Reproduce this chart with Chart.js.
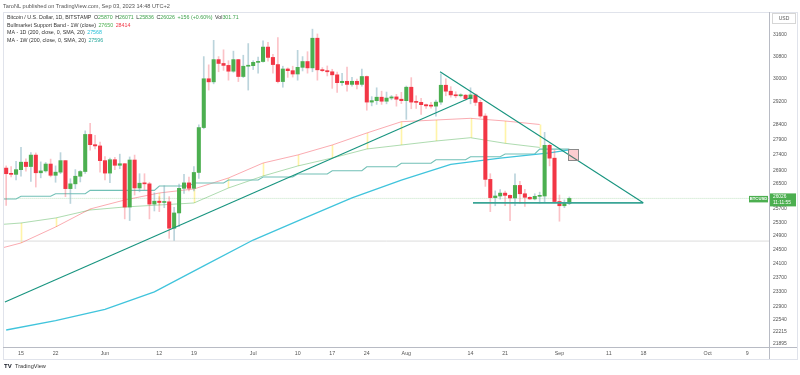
<!DOCTYPE html>
<html>
<head>
<meta charset="utf-8">
<script src="https://cdn.jsdelivr.net/npm/chart.js@4.4.0/dist/chart.umd.min.js"></script>
<style>
html,body{margin:0;padding:0;background:#ffffff;overflow:hidden;}
canvas{display:block;}
</style>
</head>
<body>
<canvas id="c" width="800" height="375"></canvas>
<script>
// ---------------- DATA ----------------
const dates = [
 '2023-05-12','2023-05-13','2023-05-14','2023-05-15','2023-05-16','2023-05-17','2023-05-18','2023-05-19','2023-05-20','2023-05-21',
 '2023-05-22','2023-05-23','2023-05-24','2023-05-25','2023-05-26','2023-05-27','2023-05-28','2023-05-29','2023-05-30','2023-05-31',
 '2023-06-01','2023-06-02','2023-06-03','2023-06-04','2023-06-05','2023-06-06','2023-06-07','2023-06-08','2023-06-09','2023-06-10',
 '2023-06-11','2023-06-12','2023-06-13','2023-06-14','2023-06-15','2023-06-16','2023-06-17','2023-06-18','2023-06-19','2023-06-20',
 '2023-06-21','2023-06-22','2023-06-23','2023-06-24','2023-06-25','2023-06-26','2023-06-27','2023-06-28','2023-06-29','2023-06-30',
 '2023-07-01','2023-07-02','2023-07-03','2023-07-04','2023-07-05','2023-07-06','2023-07-07','2023-07-08','2023-07-09','2023-07-10',
 '2023-07-11','2023-07-12','2023-07-13','2023-07-14','2023-07-15','2023-07-16','2023-07-17','2023-07-18','2023-07-19','2023-07-20',
 '2023-07-21','2023-07-22','2023-07-23','2023-07-24','2023-07-25','2023-07-26','2023-07-27','2023-07-28','2023-07-29','2023-07-30',
 '2023-07-31','2023-08-01','2023-08-02','2023-08-03','2023-08-04','2023-08-05','2023-08-06','2023-08-07','2023-08-08','2023-08-09',
 '2023-08-10','2023-08-11','2023-08-12','2023-08-13','2023-08-14','2023-08-15','2023-08-16','2023-08-17','2023-08-18','2023-08-19',
 '2023-08-20','2023-08-21','2023-08-22','2023-08-23','2023-08-24','2023-08-25','2023-08-26','2023-08-27','2023-08-28','2023-08-29',
 '2023-08-30','2023-08-31','2023-09-01','2023-09-02','2023-09-03'
];
const opens = [
 26980,26800,26780,26930,27170,27030,27400,26830,26890,27110,26750,26850,27220,26330,26480,26720,26870,28080,27740,27700,
 27220,26820,27250,27070,27120,25760,27240,26350,26500,26480,25850,25940,25900,25920,25120,25580,26340,26510,26340,26840,28310,30000,29890,30690,30550,30480,30270,30690,30080,30450,
 30470,30590,30620,31150,30770,30510,29900,30350,30290,30170,30410,30620,30390,31480,30320,30290,30250,30140,29860,29910,29800,29910,29800,30080,29180,29230,29350,29210,29320,29360,29280,
 29230,29700,29180,29170,29090,29050,29040,29180,29770,29560,29430,29400,29420,29300,29430,29170,28700,26620,26050,26100,26190,26120,26040,26430,26170,26060,26010,26090,26100,27720,27300,
 25930,25800,25870
];
const highs = [
 27050,27030,27200,27650,27280,27480,27470,27180,27160,27270,27050,27480,27220,26640,26930,26900,28200,28450,28050,27830,
 27350,27300,27330,27430,27130,27340,27400,26800,26800,26530,26200,26080,26420,26080,25750,26470,26780,26690,27030,28400,30800,30500,31400,30800,31050,30650,31000,30700,30850,31280,
 30650,30780,31380,31330,30880,31500,30450,30390,30450,31030,30800,30980,31820,31640,30400,30460,30340,30240,30190,30420,30050,29990,30350,30100,29370,29680,29560,29530,29410,29450,29520,
 29740,30040,29400,29310,29110,29170,29250,30180,30000,29720,29540,29470,29450,29680,29470,29250,28780,26800,26260,26300,26250,26140,26800,26560,26310,26080,26170,26220,28150,27760,27560,
 26130,25980,26071
];
const lows = [
 25810,26700,26600,26720,26880,26560,26380,26670,26850,26700,26530,26800,26080,25870,26330,26540,26810,27560,27600,26850,
 26600,26520,26930,26960,25400,25350,26130,26230,26300,25400,25640,25620,25740,24820,24760,25170,26180,26260,26260,26650,28270,29600,29820,30250,30300,29950,30230,29900,30040,29600,
 30330,30200,30600,30630,30200,29850,29700,30050,30060,29950,30280,30200,30250,29950,30250,30100,29660,29520,29760,29560,29740,29640,29740,28900,29050,29100,29100,29120,29260,29040,29130,
 28590,28950,28960,28760,28960,28970,28700,29100,29400,29350,29330,29360,29250,29120,29060,28650,26400,25620,25800,26000,25800,25350,25800,25870,25780,25990,25980,25880,25920,27050,25880,
 25330,25740,25836
];
const closes = [
 26800,26780,26930,27170,27030,27400,26830,26890,27110,26750,26850,27220,26330,26480,26720,26870,28080,27740,27700,27220,
 26820,27250,27070,27120,25760,27240,26350,26500,26480,25850,25940,25900,25920,25120,25580,26340,26510,26340,26840,28310,30000,29890,30690,30550,30480,30270,30690,30080,30450,30470,
 30590,30620,31150,30770,30510,29900,30350,30290,30170,30410,30620,30390,31480,30320,30290,30250,30140,29860,29910,29800,29910,29800,30080,29180,29230,29350,29210,29320,29360,29280,29230,
 29700,29180,29170,29090,29050,29040,29180,29770,29560,29430,29400,29420,29300,29430,29170,28700,26620,26050,26100,26190,26120,26040,26430,26170,26060,26010,26090,26100,27720,27300,25930,
 25800,25870,26026
];

// weekly indicators (values at each week start, Monday)
const weekStarts = ['2023-05-08','2023-05-15','2023-05-22','2023-05-29','2023-06-05','2023-06-12','2023-06-19','2023-06-26',
 '2023-07-03','2023-07-10','2023-07-17','2023-07-24','2023-07-31','2023-08-07','2023-08-14','2023-08-21','2023-08-28'];
const bmsbSma = [24420,24684,25157,25701,25977,26194,26319,26665,27143,27403,27730,28128,28508,28566,28623,28532,28414];
const bmsbEma = [25200,25277,25428,25670,25762,25823,25885,26350,26728,27047,27305,27599,27730,27862,27971,27786,27650];
const ma200w  = [26008,26091,26168,26274,26274,26412,26506,26601,26696,26791,26896,27024,27134,27250,27347,27435,27596];

// daily 200 MA (sampled)
const ma200dDates = ['2023-05-12','2023-05-22','2023-06-01','2023-06-11','2023-06-21','2023-07-01','2023-07-11',
 '2023-07-21','2023-07-31','2023-08-10','2023-08-20','2023-08-30','2023-09-03'];
const ma200d = [22260,22510,22810,23290,24020,24770,25400,26040,26600,27100,27300,27470,27568];

// drawings
const trendUpDates = ['2023-05-11T18:00','2023-08-14T07:00'];
const trendUpPrices = [23010,29360];
const trendDownDates = ['2023-08-07T20:00','2023-09-17T23:00'];
const trendDownPrices = [30250,25890];
const supportDates = ['2023-08-14T12:00','2023-09-17T23:00'];
const supportPrices = [25890,25890];
const boxDates = ['2023-09-02T19:00','2023-09-04T19:00'];
const boxPrices = [27590,27240];
const grayLevel = 24740;

// axes
const yTicks = [31600,30800,30000,29200,28400,27900,27400,26900,26500,25700,25300,24900,24500,24100,23700,23300,22900,22540,22215,21895];
const xTickDates = ['2023-05-15','2023-05-22','2023-06-01','2023-06-12','2023-06-19','2023-07-01','2023-07-10','2023-07-17','2023-07-24',
 '2023-08-01','2023-08-14','2023-08-21','2023-09-01','2023-09-11','2023-09-18','2023-10-01','2023-10-09'];
const xTickLabels = ['15','22','Jun','12','19','Jul','10','17','24','Aug','14','21','Sep','11','18','Oct','9'];

// texts
const publishedText = 'TaroNL published on TradingView.com, Sep 03, 2023 14:48 UTC+2';
const symbolText = 'Bitcoin / U.S. Dollar, 1D, BITSTAMP';
const ohlcText = [['O','25870'],['H','26071'],['L','25836'],['C','26026']];
const changeText = '+156 (+0.60%)';
const volText = ['Vol','301.71'];
const bmsbText = 'Bullmarket Support Band - 1W (close)';
const ma1dText = 'MA - 1D (200, close, 0, SMA, 20)';
const ma1wText = 'MA - 1W (200, close, 0, SMA, 20)';
const lastTime = '11:11:55';
const symbolLabel = 'BTCUSD';

// ---------------- helpers ----------------
const T0 = Date.UTC(2023,4,15);
function dayOf(s){
  const parts = s.split('T');
  const [Y,M,D] = parts[0].split('-').map(Number);
  let h=0, mi=0;
  if (parts[1]) { [h,mi] = parts[1].split(':').map(Number); }
  return (Date.UTC(Y,M-1,D,h,mi)-T0)/864e5;
}
const UP = '#4caf50', DOWN = '#f23645';
const FONT = "'Liberation Sans', Arial, sans-serif";
Chart.defaults.font.family = FONT;

const dx = dates.map(dayOf);
const isUp = closes.map((c,i)=>c>=opens[i]);
const wkX = weekStarts.map(dayOf);

const stepData = [];
wkX.forEach((d,i)=>{ stepData.push({x:d,y:ma200w[i]}); stepData.push({x:d+6,y:ma200w[i]}); });
const firstX = dx[0], lastX = dx[dx.length-1];
const lastClose = closes[closes.length-1];

const datasets = [
  { type:'line', data: trendUpDates.map((s,i)=>({x:dayOf(s),y:trendUpPrices[i]})), borderColor:'#17947f', borderWidth:1.1, pointRadius:0, order:0 },
  { type:'line', data: trendDownDates.map((s,i)=>({x:dayOf(s),y:trendDownPrices[i]})), borderColor:'#17947f', borderWidth:1.1, pointRadius:0, order:0 },
  { type:'line', data: supportDates.map((s,i)=>({x:dayOf(s),y:supportPrices[i]})), borderColor:'#3aa596', borderWidth:1.8, pointRadius:0, order:0 },
  { type:'bar', data: dx.map((d,i)=>({x:d,y:[opens[i],closes[i]]})), backgroundColor: isUp.map(u=>u?UP:DOWN),
    barThickness:3.4, grouped:false, minBarLength:1, borderWidth:0, order:1 },
  { type:'bar', data: dx.map((d,i)=>({x:d,y:[lows[i],highs[i]]})), backgroundColor: isUp.map(u=>u?'rgba(120,170,185,0.5)':'rgba(242,54,69,0.3)'),
    barThickness:1, grouped:false, borderWidth:0, order:2 },
  { type:'line', data: ma200dDates.map((s,i)=>({x:dayOf(s),y:ma200d[i]})), borderColor:'#40c4dc', borderWidth:1.3, pointRadius:0, order:3 },
  { type:'line', data: stepData, borderColor:'#72c0b6', borderWidth:1.1, pointRadius:0, order:3 },
  { type:'line', data: weekStarts.map((s,i)=>({x:wkX[i],y:bmsbSma[i]})), borderColor:'rgba(242,54,69,0.42)', borderWidth:1, pointRadius:0, order:4 },
  { type:'line', data: weekStarts.map((s,i)=>({x:wkX[i],y:bmsbEma[i]})), borderColor:'rgba(76,175,80,0.45)', borderWidth:1, pointRadius:0, order:4 },
  { type:'line', data: [{x:-10,y:lastClose},{x:200,y:lastClose}], borderColor:'rgba(76,175,80,0.35)', borderWidth:1, borderDash:[1,1], pointRadius:0, order:5 },
  { type:'line', data: [{x:-10,y:grayLevel},{x:200,y:grayLevel}], borderColor:'#dcdcdc', borderWidth:1, pointRadius:0, order:5 }
];

const deco = {
  id:'deco',
  beforeDatasetsDraw(chart){
    const {ctx, chartArea:a, scales:{x,y}} = chart;
    ctx.save();
    ctx.beginPath(); ctx.rect(a.left,a.top,a.right-a.left,a.bottom-a.top); ctx.clip();
    ctx.strokeStyle='rgba(255,236,110,0.6)'; ctx.lineWidth=1.6;
    wkX.forEach((d,i)=>{
      const px = Math.round(x.getPixelForValue(d))+0.5;
      ctx.beginPath(); ctx.moveTo(px,y.getPixelForValue(bmsbSma[i])); ctx.lineTo(px,y.getPixelForValue(bmsbEma[i])); ctx.stroke();
    });
    ctx.restore();
  },
  afterDatasetsDraw(chart){
    const {ctx, scales:{x,y}} = chart;
    const x1=x.getPixelForValue(dayOf(boxDates[0])), x2=x.getPixelForValue(dayOf(boxDates[1]));
    const y1=y.getPixelForValue(boxPrices[0]), y2=y.getPixelForValue(boxPrices[1]);
    ctx.save();
    ctx.fillStyle='rgba(242,54,69,0.25)'; ctx.fillRect(x1,y1,x2-x1,y2-y1);
    ctx.strokeStyle='#8a8a8a'; ctx.lineWidth=1; ctx.strokeRect(Math.round(x1)+0.5,Math.round(y1)+0.5,Math.round(x2-x1),Math.round(y2-y1));
    ctx.restore();
  },
  afterDraw(chart){
    const {ctx, chartArea:a, scales:{y}} = chart;
    ctx.save();
    // frame
    ctx.strokeStyle='#e0e3eb'; ctx.lineWidth=1;
    ctx.strokeRect(3.5,12.5,794,347);
    ctx.strokeStyle='#b8bbc4';
    ctx.beginPath(); ctx.moveTo(3,a.bottom+0.5); ctx.lineTo(797,a.bottom+0.5); ctx.stroke();
    ctx.beginPath(); ctx.moveTo(a.right+0.5,12); ctx.lineTo(a.right+0.5,359); ctx.stroke();

    ctx.textBaseline='middle'; ctx.textAlign='left';
    // published line
    ctx.font='5.6px '+FONT; ctx.fillStyle='#555';
    ctx.fillText(publishedText,3,6);

    // legend
    ctx.font='5.3px '+FONT;
    let cx=7; const dark='#333', green='#3fa34d';
    function seg(t,c,gap){ ctx.fillStyle=c; ctx.fillText(t,cx,curY); cx+=ctx.measureText(t).width+(gap||0); }
    let curY=17.5;
    seg(symbolText,dark,2.5);
    ohlcText.forEach(p=>{ seg(p[0],dark,0); seg(p[1],green,2.5); });
    seg(changeText,green,2.5);
    seg(volText[0],dark,0); seg(volText[1],green,0);
    curY=25.3; cx=7;
    seg(bmsbText,dark,2.5); seg('27650','#4caf50',2.5); seg('28414','#f23645',0);
    curY=33; cx=7;
    seg(ma1dText,dark,2.5); seg('27568','#26c0d8',0);
    curY=40.6; cx=7;
    seg(ma1wText,dark,2.5); seg('27596','#26a69a',0);

    // USD box
    ctx.strokeStyle='#d6d6d6'; ctx.strokeRect(772.5,13.5,23,10);
    ctx.fillStyle='#555'; ctx.font='5px '+FONT; ctx.textAlign='center';
    ctx.fillText('USD',784,18.7);

    // price label on axis
    const py=y.getPixelForValue(lastClose);
    ctx.fillStyle='#4caf50';
    ctx.fillRect(770,py-5,26,13);
    ctx.fillStyle='#fff'; ctx.font='4.8px '+FONT; ctx.textAlign='left';
    ctx.fillText(String(lastClose),773,py-1.5);
    ctx.fillText(lastTime,773,py+4.5);
    // symbol label
    ctx.fillStyle='#4caf50';
    ctx.fillRect(749,py-2.5,19,6.5);
    ctx.fillStyle='#fff'; ctx.font='bold 4.2px '+FONT; ctx.textAlign='center';
    ctx.fillText(symbolLabel,758.5,py+0.8);

    // TradingView logo
    ctx.textAlign='left'; ctx.fillStyle='#131722';
    ctx.font='bold 6px '+FONT; ctx.fillText('TV',4,366.5);
    ctx.font='5.6px '+FONT; ctx.fillStyle='#333'; ctx.fillText('TradingView',15,366.5);
    ctx.restore();
  }
};

new Chart(document.getElementById('c').getContext('2d'), {
  type:'bar',
  data:{ datasets },
  plugins:[deco],
  options:{
    responsive:false, animation:false, devicePixelRatio:1, events:[],
    layout:{ padding:{ top:13, left:4, right:0, bottom:16 } },
    plugins:{ legend:{display:false}, tooltip:{enabled:false} },
    scales:{
      x:{
        type:'linear', min:-3.44, max:151.42, offset:false, bounds:'data',
        grid:{display:false, drawTicks:false}, border:{display:false},
        ticks:{ autoSkip:false, maxRotation:0, padding:3, color:'#555', font:{size:5.3},
          callback:(v,i)=>xTickLabels[i] },
        afterBuildTicks:(ax)=>{ ax.ticks = xTickDates.map(s=>({value:dayOf(s)})); },
        afterFit:(ax)=>{ ax.height = 12; }
      },
      y:{
        type:'logarithmic', position:'right', min:21815, max:32437, bounds:'data',
        grid:{display:false, drawTicks:false}, border:{display:false},
        ticks:{ autoSkip:false, padding:4, color:'#555', font:{size:5}, callback:(v)=>String(v) },
        afterBuildTicks:(ax)=>{ ax.ticks = yTicks.map(v=>({value:v})); },
        afterFit:(ax)=>{ ax.width = 31; }
      }
    }
  }
});
</script>
</body>
</html>
